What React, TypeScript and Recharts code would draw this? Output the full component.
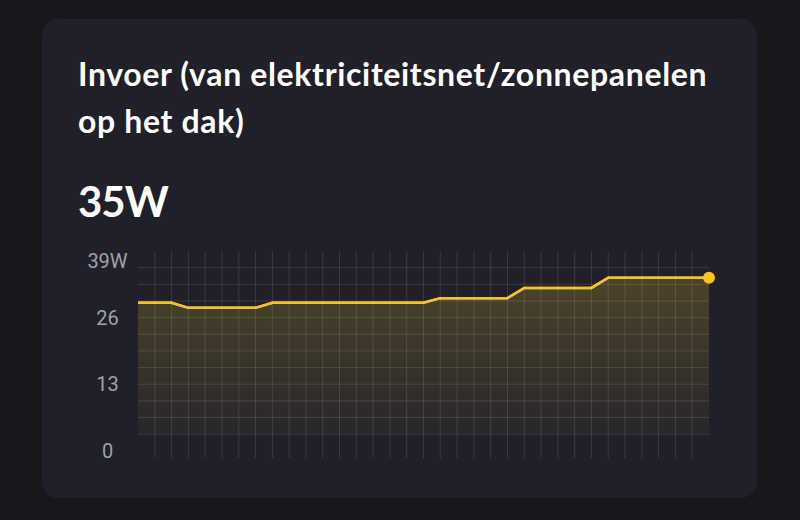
import React from 'react';
import {
    AreaChart,
    Area,
    XAxis,
    YAxis,
    ReferenceLine,
} from 'recharts';

// one reading per sample, left to right
const samples = [
    '1', '2', '3', '4', '5', '6', '7', '8', '9', '10',
    '11', '12', '13', '14', '15', '16', '17', '18', '19', '20',
    '21', '22', '23', '24', '25', '26', '27', '28', '29', '30',
    '31', '32', '33', '34', '35',
];

const watts = [
    28.9, 28.9, 28.9, 27.9, 27.9, 27.9, 27.9, 27.9, 28.9, 28.9,
    28.9, 28.9, 28.9, 28.9, 28.9, 28.9, 28.9, 28.9, 29.8, 29.8,
    29.8, 29.8, 29.8, 31.8, 31.8, 31.8, 31.8, 31.8, 33.8, 33.8,
    33.8, 33.8, 33.8, 33.8, 33.8,
];

const yTicks = [0, 13, 26, 39];

const gridLevels = [
    3.25, 6.5, 9.75, 13, 16.25, 19.5, 22.75, 26, 29.25, 32.5, 35.75,
];

// inner columns only, the outer edges carry no line
const gridColumns = samples.slice(1, -1);

const currentValue = '35W';

const gridStroke = 'rgba(255,255,255,0.115)';

const chartData = samples.map((sample, i) => ({
    sample,
    watts: watts[i],
}));

const YTick = (props: any) => {
    const { x, y, payload } = props;
    const isTop = payload.value === yTicks[yTicks.length - 1];
    return (
        <text
            x={x - 30.5}
            y={y + (isTop ? 10 : 0)}
            dy="0.36em"
            textAnchor="middle"
            fill="#a0a2a9"
            fontSize={20}
            fontFamily="Roboto, sans-serif"
        >
            {isTop ? `${payload.value}W` : payload.value}
        </text>
    );
};

const LastDot = (props: any) => {
    const { cx, cy, index } = props;
    if (index !== watts.length - 1) {
        return <g key={`d${index}`} />;
    }
    return (
        <circle
            key={`d${index}`}
            cx={cx}
            cy={cy}
            r={6}
            fill="#ffc21c"
        />
    );
};

export default function App() {
    return (
        <div
            style={{
                position: 'fixed',
                left: 0,
                top: 0,
                width: 800,
                height: 520,
                background: '#17181c',
                overflow: 'hidden',
            }}
        >
            <div
                style={{
                    position: 'absolute',
                    left: 42,
                    top: 19,
                    width: 715,
                    height: 479,
                    borderRadius: 16,
                    background: '#1f2029',
                }}
            />

            <div
                style={{
                    position: 'absolute',
                    left: 78,
                    top: 50,
                    width: 680,
                    color: '#ffffff',
                    fontFamily: 'Lato, sans-serif',
                    fontWeight: 700,
                    fontSize: 32,
                    letterSpacing: 0.65,
                    lineHeight: '47px',
                    whiteSpace: 'nowrap',
                }}
            >
                Invoer (van elektriciteitsnet/zonnepanelen
                <br />
                op het dak)
            </div>

            <div
                style={{
                    position: 'absolute',
                    left: 78,
                    top: 180,
                    color: '#ffffff',
                    fontFamily: 'Lato, sans-serif',
                    fontWeight: 700,
                    fontSize: 42,
                    letterSpacing: -1,
                    lineHeight: '42px',
                }}
            >
                {currentValue}
            </div>

            <div
                style={{
                    position: 'absolute',
                    left: 60,
                    top: 231,
                }}
            >
                <AreaChart
                    width={660}
                    height={240}
                    data={chartData}
                    margin={{
                        top: 20,
                        right: 11,
                        bottom: 13,
                        left: 0,
                    }}
                >
                    <defs>
                        <linearGradient
                            id="invoerFill"
                            x1="0"
                            y1="0"
                            x2="0"
                            y2="1"
                        >
                            <stop
                                offset="0%"
                                stopColor="#f0c030"
                                stopOpacity={0.22}
                            />
                            <stop
                                offset="100%"
                                stopColor="#f0c030"
                                stopOpacity={0.04}
                            />
                        </linearGradient>
                    </defs>

                    <XAxis
                        dataKey="sample"
                        scale="point"
                        padding={{ left: 0, right: 0 }}
                        hide
                    />

                    <YAxis
                        domain={[-1.4, 39]}
                        ticks={yTicks}
                        interval={0}
                        width={78}
                        axisLine={false}
                        tickLine={false}
                        tickSize={0}
                        tickMargin={0}
                        tick={<YTick />}
                    />

                    <Area
                        type="linear"
                        dataKey="watts"
                        stroke="#f2c230"
                        strokeWidth={2.5}
                        fill="url(#invoerFill)"
                        fillOpacity={1}
                        baseValue={gridLevels[0]}
                        dot={false}
                        activeDot={false}
                        isAnimationActive={false}
                    />

                    {/* grid rows */}
                    {gridLevels.map(v => (
                        <ReferenceLine
                            key={`h${v}`}
                            y={v}
                            stroke={gridStroke}
                            strokeWidth={1}
                        />
                    ))}

                    {/* grid columns */}
                    {gridColumns.map(s => (
                        <ReferenceLine
                            key={`v${s}`}
                            x={s}
                            stroke={gridStroke}
                            strokeWidth={1}
                        />
                    ))}

                    {/* line and end dot drawn over the grid */}
                    <Area
                        type="linear"
                        dataKey="watts"
                        stroke="#f2c230"
                        strokeWidth={2.5}
                        fill="none"
                        baseValue={gridLevels[0]}
                        dot={LastDot}
                        activeDot={false}
                        isAnimationActive={false}
                    />
                </AreaChart>
            </div>
        </div>
    );
}
